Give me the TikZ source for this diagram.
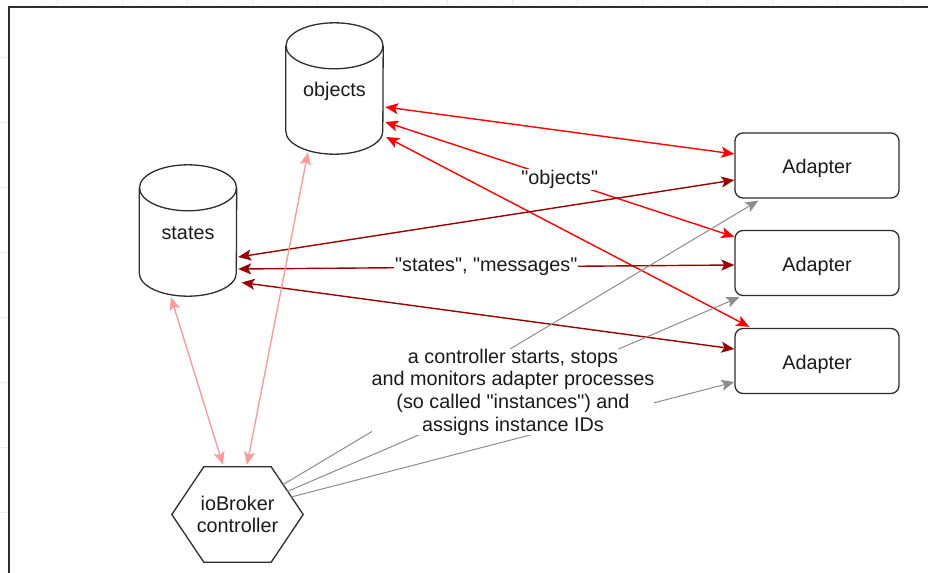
\documentclass[tikz,border=0pt]{standalone}
\usepackage{fontspec}
\setmainfont{Liberation Sans}[Ligatures=TeXOff]
\usetikzlibrary{arrows.meta,calc}
\definecolor{objred}{HTML}{FF0000}
\definecolor{statered}{HTML}{990000}
\definecolor{ctlpink}{HTML}{FF9A9A}
\definecolor{ctlgray}{HTML}{8C8C8C}
\definecolor{outline}{HTML}{2E2E2E}
\definecolor{txt}{HTML}{1A1A1A}
% shape captions sit a little below the geometric centre
\newcommand\lowered[1]{\raisebox{-3bp}[\height][\depth]{#1}}
\begin{document}
\begin{tikzpicture}[x=1bp,y=-1bp,
  >={Stealth[length=13bp,width=11bp,inset=3bp]},
  every node/.style={font=\fontsize{19.8bp}{22.7bp}\selectfont, text=txt},
  dbstore/.style={minimum width=97bp, minimum height=131bp, inner sep=0pt},
  adapterbox/.style={draw=outline, line width=1.3bp, fill=white, rounded corners=8bp,
                     minimum width=164bp, minimum height=65bp, inner sep=0pt},
  hexbox/.style={minimum width=131bp, minimum height=95bp, inner sep=0pt, align=center},
  outlinepen/.style={draw=outline, line width=1.3bp},
  objlink/.style={draw=objred, line width=1.4bp, <->},
  statelink/.style={draw=statered, line width=1.4bp, <->},
  ctllink/.style={draw=ctlpink, line width=1.4bp, <->},
  spawnlink/.style={draw=ctlgray, line width=1bp, ->},
  linklabel/.style={fill=white, inner sep=1bp},
]
\useasboundingbox (0,0) rectangle (928,573);
\clip (0,0) rectangle (928,573);

% editor grid around the page frame
\foreach \g in {-8,5,...,940}{
  \draw[gray!5, line width=0.6bp] (\g,0) -- (\g,573);
  \draw[gray!5, line width=0.6bp] (0,\g) -- (928,\g);
}
\foreach \g in {-8,57,...,940}{
  \draw[gray!14, line width=0.8bp] (\g,0) -- (\g,573);
  \draw[gray!14, line width=0.8bp] (0,\g) -- (928,\g);
}
\fill[white] (8.5,7) rectangle (940,590);
\draw[draw=outline, line width=2bp] (8.5,590) -- (8.5,7) -- (940,7);

% data stores
\node[dbstore] (objects) at (334.5,88.5) {\lowered{objects}};
\node[dbstore] (states) at (188,230.5) {\lowered{states}};
\foreach \db in {objects,states}{
  \draw[outlinepen] ([yshift=-23bp]\db.north west) -- ([yshift=23bp]\db.south west)
    arc[start angle=180, end angle=360, x radius=48.5bp, y radius=23bp]
    -- ([yshift=-23bp]\db.north east);
  \draw[outlinepen] ([yshift=-23bp]\db.north) ellipse[x radius=48.5bp, y radius=23bp];
}

% adapters
\node[adapterbox] (a1) at (817,165.5) {\lowered{Adapter}};
\node[adapterbox] (a2) at (817,263) {\lowered{Adapter}};
\node[adapterbox] (a3) at (817,361) {\lowered{Adapter}};

% controller
\node[hexbox] (hex) at (237.5,514.5) {ioBroker\\controller};
\draw[outlinepen] (hex.west) -- ([xshift=32bp]hex.north west) -- ([xshift=-32bp]hex.north east)
  -- (hex.east) -- ([xshift=-32bp]hex.south east) -- ([xshift=32bp]hex.south west) -- cycle;

% objects database links
\draw[objlink] ($(objects.east)+(2,18.5)$) -- ($(a1.west)+(0,-11.5)$);
\draw[objlink] ($(objects.east)+(2,33.5)$) -- node[linklabel] {"objects"} ($(a2.north west)+(0,7)$);
\draw[objlink] ($(objects.east)+(3,48.5)$) -- ($(a3.north west)+(15,-1)$);

% states database links
\draw[statelink] ($(states.east)+(1.5,26.5)$) -- ($(a1.west)+(0,14.5)$);
\draw[statelink] ($(states.east)+(1.5,38.5)$) -- node[linklabel] {"states", "messages"} ($(a2.west)+(0,2)$);
\draw[statelink] ($(states.east)+(5,52)$) -- ($(a3.west)+(0,-12)$);

% controller to databases
\draw[ctllink] ($(states.south)+(-17,1)$) -- ($(hex.north)+(-14.5,-2)$);
\draw[ctllink] ($(objects.south)+(-26.5,-2)$) -- ($(hex.north)+(9.5,-2)$);

% controller to adapter instances
\draw[spawnlink] ($(hex.east)+(-20,-30)$) -- ($(a1.south west)+(24,2)$);
\draw[spawnlink] ($(hex.east)+(-16,-23)$) -- ($(a2.south west)+(5,1)$);
\draw[spawnlink] ($(hex.east)+(-12,-17.5)$) -- ($(a3.west)+(0,21)$);
\node[linklabel, align=center, inner sep=0pt] (note) at (513,392)
  {a controller starts, stops\\and monitors adapter processes\\(so called "instances") and\\assigns instance IDs};
\end{tikzpicture}
\end{document}
